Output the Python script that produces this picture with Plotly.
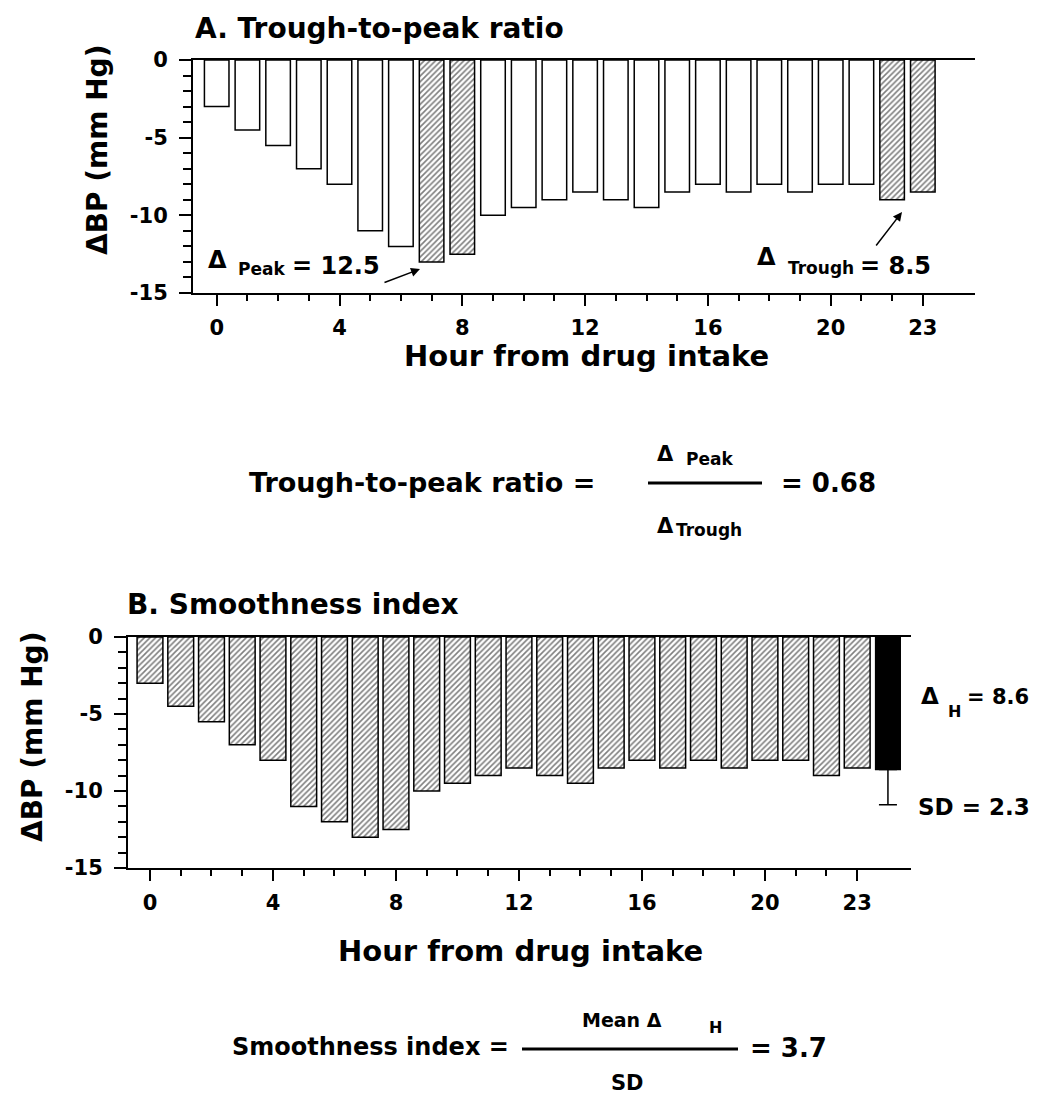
import plotly.graph_objects as go

# ---------------- data ----------------
hours = list(range(24))
delta_bp = [-3, -4.5, -5.5, -7, -8, -11, -12, -13, -12.5, -10, -9.5, -9,
            -8.5, -9, -9.5, -8.5, -8, -8.5, -8, -8.5, -8, -8, -9, -8.5]
hatched_hours_a = [7, 8, 22, 23]          # peak & trough hours in panel A
mean_hour_pos = [24]                      # position of the mean bar in panel B
mean_delta_h = [-8.6]
sd_delta_h = [2.3]
x_tick_vals = [0, 4, 8, 12, 16, 20, 23]
x_tick_text = ["0", "4", "8", "12", "16", "20", "23"]
y_tick_vals = [0, -5, -10, -15]
y_tick_text = ["0", "-5", "-10", "-15"]

W, H = 1038, 1104
FONT = "DejaVu Sans"


def px(x):
    return x / W


def py(y):
    return 1 - y / H


fig = go.Figure()

# panel A bars
fig.add_trace(go.Bar(
    x=hours, y=delta_bp, width=0.8,
    marker=dict(color="white", line=dict(color="black", width=1.5),
                pattern=dict(shape=["/" if h in hatched_hours_a else "" for h in hours],
                             fgcolor="black", bgcolor="white", size=4, solidity=0.4)),
    xaxis="x", yaxis="y", showlegend=False, hoverinfo="skip"))

# panel B bars
fig.add_trace(go.Bar(
    x=hours, y=delta_bp, width=0.84,
    marker=dict(color="white", line=dict(color="black", width=1.5),
                pattern=dict(shape="/", fgcolor="black", bgcolor="white", size=4, solidity=0.4)),
    xaxis="x2", yaxis="y2", showlegend=False, hoverinfo="skip"))

fig.add_trace(go.Bar(
    x=mean_hour_pos, y=mean_delta_h, width=0.8,
    marker=dict(color="black", line=dict(color="black", width=1.5)),
    error_y=dict(type="data", symmetric=False, array=[0], arrayminus=sd_delta_h,
                 color="black", thickness=1.5, width=9),
    xaxis="x2", yaxis="y2", showlegend=False, hoverinfo="skip"))

tickfont = dict(family=FONT, size=21, color="black", weight="bold")

common_x = dict(showline=True, linecolor="black", linewidth=2, mirror=True,
                ticks="outside", ticklen=11, tickwidth=1.5, tickcolor="black",
                tickmode="array", tickvals=x_tick_vals, ticktext=x_tick_text,
                minor=dict(tickmode="array", tickvals=hours, ticklen=6,
                           tickwidth=1.5, tickcolor="black", ticks="outside"),
                showgrid=False, zeroline=False, tickfont=tickfont,
                ticklabelstandoff=4, fixedrange=True, automargin=False)
common_y = dict(showline=True, linecolor="black", linewidth=2,
                ticks="outside", ticklen=12, tickwidth=1.5, tickcolor="black",
                tickmode="array", tickvals=y_tick_vals, ticktext=y_tick_text,
                range=[-15, 0],
                minor=dict(tickmode="array", tickvals=list(range(-15, 1)), ticklen=8,
                           tickwidth=1.5, tickcolor="black", ticks="outside"),
                showgrid=False, zeroline=False, tickfont=tickfont,
                ticklabelstandoff=7, fixedrange=True, automargin=False)

fig.update_layout(
    width=W, height=H, autosize=False,
    margin=dict(l=0, r=0, t=0, b=0, pad=0),
    paper_bgcolor="white", plot_bgcolor="white",
    barmode="overlay",
    font=dict(family=FONT, color="black"),
    xaxis=dict(common_x, domain=[px(193), px(975)], range=[-0.772, 24.70], anchor="y"),
    yaxis=dict(common_y, domain=[py(293), py(60)], anchor="x"),
    xaxis2=dict(common_x, domain=[px(128), px(911)], range=[-0.715, 24.75], anchor="y2"),
    yaxis2=dict(common_y, domain=[py(868), py(637)], anchor="x2"),
)

ann = []


def text(t, x, y, size, xanchor="left", yanchor="middle", angle=0):
    ann.append(dict(text=t, x=px(x), y=py(y), xref="paper", yref="paper",
                    xanchor=xanchor, yanchor=yanchor, showarrow=False, textangle=angle,
                    font=dict(family=FONT, size=size, color="black", weight="bold")))


# Panel A texts
text("A. Trough-to-peak ratio", 193, 28, 28)
text("ΔBP (mm Hg)", 97, 150, 28, xanchor="center", angle=-90)
text("Hour from drug intake", 586, 356, 29, xanchor="center")
text("Δ", 206, 260, 24)
text("Peak", 236, 269, 17)
text("= 12.5", 290, 266, 24)
text("Δ", 755, 257, 24)
text("Trough", 786, 268, 17)
text("= 8.5", 858, 266, 24)

# arrows in panel A
ann.append(dict(x=px(420), y=py(269), xref="paper", yref="paper", text="",
                showarrow=True, ax=-37, ay=14, arrowhead=2, arrowsize=1.2,
                arrowwidth=1.5, arrowcolor="black"))
ann.append(dict(x=px(902), y=py(212), xref="paper", yref="paper", text="",
                showarrow=True, ax=-27, ay=35, arrowhead=2, arrowsize=1.2,
                arrowwidth=1.5, arrowcolor="black"))

# formula 1
text("Trough-to-peak ratio =", 247, 482, 27)
text("Δ", 655, 454, 21)
text("Peak", 684, 459, 17)
text("Δ", 655, 526, 21)
text("Trough", 674, 530, 17)
text("= 0.68", 779, 483, 26)

# Panel B texts
text("B. Smoothness index", 125, 604, 28)
text("ΔBP (mm Hg)", 32, 737, 28, xanchor="center", angle=-90)
text("Hour from drug intake", 520, 951, 29, xanchor="center")
text("Δ", 919, 696, 23)
text("H", 946, 711, 16)
text("= 8.6", 965, 697, 21)
text("SD = 2.3", 916, 807, 23)

# formula 2
text("Smoothness index =", 230, 1047, 24)
text("Mean Δ", 580, 1020, 19)
text("H", 707, 1027, 16)
text("SD", 627, 1083, 21, xanchor="center")
text("= 3.7", 748, 1048, 26)

fig.update_layout(annotations=ann)

fig.update_layout(shapes=[
    dict(type="line", xref="paper", yref="paper", x0=px(648), x1=px(762),
         y0=py(483), y1=py(483), line=dict(color="black", width=3)),
    dict(type="line", xref="paper", yref="paper", x0=px(522), x1=px(738),
         y0=py(1049), y1=py(1049), line=dict(color="black", width=3)),
])

fig.write_html("out.html", config={"displayModeBar": False},
               post_script="document.body.style.margin='0';document.documentElement.style.overflow='hidden';")
